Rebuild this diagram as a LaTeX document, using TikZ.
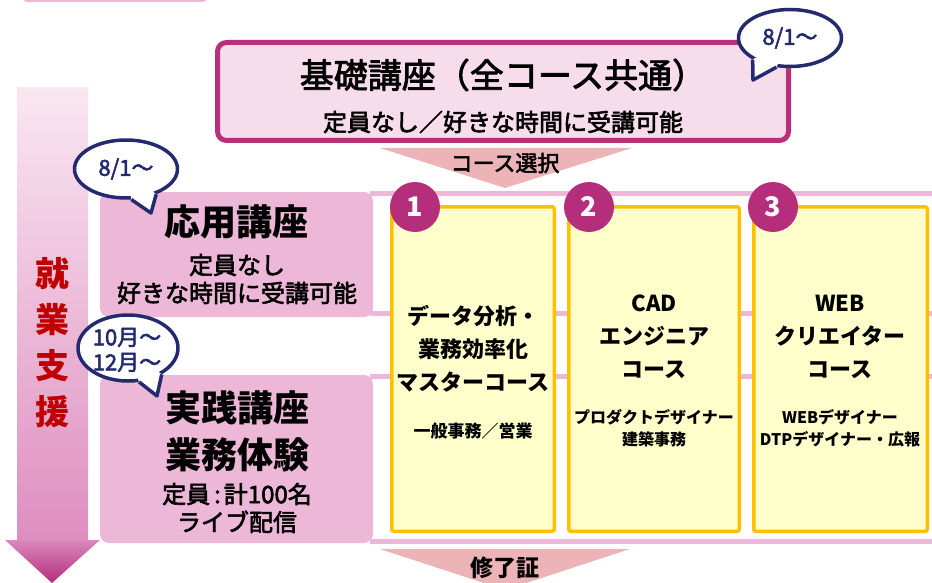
\documentclass[tikz,border=0pt]{standalone}
\usepackage{fontspec}
\setmainfont{Noto Sans CJK JP}
\newfontfamily\jpmed[FakeBold=2.5]{Noto Sans CJK JP}
\usetikzlibrary{shapes.geometric,positioning,calc}
\definecolor{basefill}{HTML}{F7DCEB}
\definecolor{baseedge}{HTML}{B8307C}
\definecolor{rowpink}{HTML}{EDB8D8}
\definecolor{coursefill}{HTML}{FFFFCC}
\definecolor{courseedge}{HTML}{FFC000}
\definecolor{badgecol}{HTML}{B52E7C}
\definecolor{flowpink}{HTML}{EDB4B8}
\definecolor{navy}{HTML}{232A70}
\definecolor{darkred}{HTML}{C00000}
\definecolor{shaftend}{HTML}{DE8EC0}
\definecolor{headtop}{HTML}{DA88BD}
\newcommand{\jsize}[1]{\fontsize{#1}{#1}\selectfont}

\begin{document}
\begin{tikzpicture}
[x=1pt,y=-1pt,inner sep=0pt,line join=round,
 basebox/.style={draw=baseedge,fill=basefill,line width=5pt,rounded corners=9pt},
 rowbox/.style={fill=rowpink,rounded corners=9pt},
 course/.style={draw=courseedge,fill=coursefill,line width=3.5pt,rounded corners=2pt},
 badge/.style={circle,fill=badgecol,minimum size=50pt,text=white,font=\bfseries\jsize{27}},
 bubble/.style={ellipse,draw=navy,fill=white,line width=3.5pt},
 tail/.style={draw=navy,line width=3.5pt},
 btext/.style={text=navy,align=center,font=\jpmed\fontsize{22}{25}\selectfont},
 ctitle/.style={align=center,font=\bfseries\fontsize{22}{33}\selectfont},
 csub/.style={align=center,font=\bfseries\fontsize{16}{22}\selectfont}]
\clip (0,0) rectangle (932,583);

\fill[rowpink,rounded corners=6pt] (22,-20) rectangle (208,2);

\shade[top color=basefill!70!white,middle color=rowpink!90!basefill,bottom color=shaftend]
 (17,88) rectangle (88,541);
\shade[top color=headtop,bottom color=badgecol]
 (5,540) -- (100,540) -- (52,583) -- cycle;
\node[text=darkred,align=center,font=\bfseries\fontsize{34}{46}\selectfont] (shien) at (52,343) {就\\業\\支\\援};

\node[rowbox,minimum width=273pt,minimum height=125pt] (oyo) at (236.5,254.5) {};
\node[rowbox,minimum width=273pt,minimum height=168pt] (jsn) at (236.5,459) {};
\fill[rowpink] (370,191) rectangle (932,196);
\fill[rowpink] (370,311) rectangle (932,316);
\fill[rowpink] (370,374) rectangle (932,379);
\fill[rowpink] (370,539) rectangle (932,544);

\node[course,minimum width=162.5pt,minimum height=324.5pt] (c1) at (473,369) {};
\node[course,minimum width=170.5pt,minimum height=324.5pt] (c2) at (654,369) {};
\node[course,minimum width=173.5pt,minimum height=324.5pt] (c3) at (840.5,369) {};
\node[badge] (b1) at (415,207) {1};
\node[badge] (b2) at (589,207) {2};
\node[badge] (b3) at (773,207) {3};

\node[ctitle] (t1) at (473,349) {データ分析・\\業務効率化\\マスターコース};
\node[csub,font=\bfseries\jsize{17}] (s1) at (473,431) {一般事務／営業};
\node[ctitle] (t2) at (654,337) {CAD\\エンジニア\\コース};
\node[csub] (s2) at (654,428) {プロダクトデザイナー\\建築事務};
\node[ctitle] (t3) at (840,337) {WEB\\クリエイター\\コース};
\node[csub] (s3) at (840,428) {WEBデザイナー\\DTPデザイナー・広報};

\node[basebox,minimum width=571pt,minimum height=98pt] (base) at (503,91.5) {};
\node[font=\jpmed\jsize{34}] (baset) at (503,75) {基礎講座（全コース共通）};
\node[font=\jpmed\jsize{24}] (bases) at (503,122) {定員なし／好きな時間に受講可能};

\fill[flowpink] (380,148) -- (632,148) -- (505,188) -- cycle;
\node[font=\jpmed\jsize{22}] (sel) at (505,163) {コース選択};
\fill[flowpink] (380,549) -- (630,549) -- (505,590) -- cycle;
\node[font=\bfseries\jsize{23}] (fin) at (505,568) {修了証};

\node[font=\bfseries\jsize{36}] (oyot) at (236,222) {応用講座};
\node[align=center,font=\jpmed\fontsize{24}{28}\selectfont] (oyos) at (237,279) {定員なし\\好きな時間に受講可能};
\node[align=center,font=\bfseries\fontsize{36}{47}\selectfont] (jsnt) at (237,431) {実践講座\\業務体験};
\node[align=center,font=\jpmed\fontsize{24}{28}\selectfont] (jsns) at (237,508) {定員\hspace{4pt}:\hspace{3pt}計100名\\ライブ配信};

\node[bubble,minimum width=103pt,minimum height=57pt] (bub1) at (790,38) {};
\coordinate (bub1tip) at (753,80);
\fill[white] ($(bub1.center)!.8!(bub1.-150)$) -- (bub1.-150) -- (bub1tip) -- (bub1.-115) -- ($(bub1.center)!.8!(bub1.-115)$) -- cycle;
\draw[tail] (bub1.-150) -- (bub1tip) -- (bub1.-115);
\node[btext] (bub1t) at (790,38) {8/1～};

\node[bubble,minimum width=103pt,minimum height=58pt] (bub2) at (126,169) {};
\coordinate (bub2tip) at (151,213);
\fill[white] ($(bub2.center)!.8!(bub2.-80)$) -- (bub2.-80) -- (bub2tip) -- (bub2.-40) -- ($(bub2.center)!.8!(bub2.-40)$) -- cycle;
\draw[tail] (bub2.-80) -- (bub2tip) -- (bub2.-40);
\node[btext] (bub2t) at (126,169) {8/1～};

\node[bubble,minimum width=100pt,minimum height=66pt] (bub3) at (128,348) {};
\coordinate (bub3tip) at (157,396);
\fill[white] ($(bub3.center)!.8!(bub3.-72)$) -- (bub3.-72) -- (bub3tip) -- (bub3.-38) -- ($(bub3.center)!.8!(bub3.-38)$) -- cycle;
\draw[tail] (bub3.-72) -- (bub3tip) -- (bub3.-38);
\node[btext] (bub3t) at (127,350) {10月～\\12月～};
\end{tikzpicture}
\end{document}
